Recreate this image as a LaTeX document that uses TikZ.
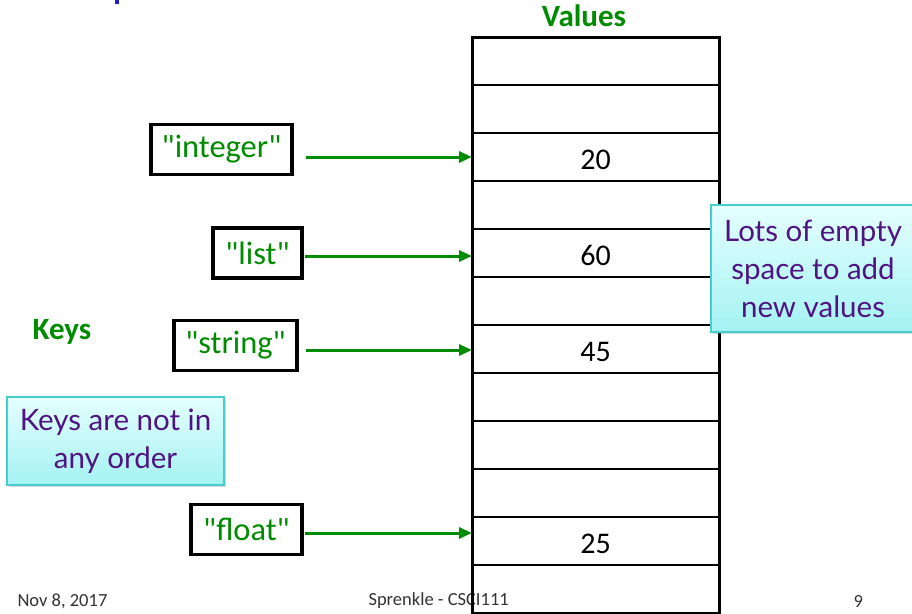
\documentclass[tikz,border=0pt]{standalone}
\usepackage{fontspec}
\setmainfont{Carlito}
\newfontfamily\keyfont{Carlito}[Ligatures=TeXOff]
\newfontfamily\gillfont{Lato}
\usetikzlibrary{arrows.meta,positioning,shadows}
\definecolor{keygreen}{RGB}{0,140,0}
\definecolor{notepurple}{RGB}{80,20,130}
\definecolor{noteedge}{RGB}{70,205,205}
\definecolor{notetop}{RGB}{228,255,255}
\definecolor{notebot}{RGB}{165,242,242}
\definecolor{titleblue}{RGB}{40,30,200}
\definecolor{footgray}{RGB}{50,50,50}

\begin{document}
\begin{tikzpicture}[x=1pt,y=-1pt,
  cell/.style={draw,line width=1.2pt,minimum width=247pt,minimum height=48pt,inner sep=0pt,outer sep=0pt,
    text height=25pt,text depth=0pt,font=\fontsize{30}{34}\selectfont},
  keybox/.style={draw,line width=3.5pt,fill=white,text=keygreen,minimum height=50pt,inner xsep=6pt,font=\keyfont\fontsize{32.5}{36}\selectfont},
  note/.style={draw=noteedge,line width=1.5pt,top color=notetop,bottom color=notebot,text=notepurple,align=center,
    font=\gillfont\fontsize{29.5}{38}\selectfont,drop shadow={shadow xshift=2pt,shadow yshift=-2pt,opacity=.3}},
  heading/.style={text=keygreen,font=\bfseries\fontsize{31}{36}\selectfont},
  foot/.style={text=footgray,anchor=west,font=\fontsize{18.5}{22}\selectfont},
  arr/.style={-{Triangle[length=13pt,width=11pt]},line width=3pt,keygreen}
]
\clip (0,0) rectangle (912,613);

% cut-off title
\fill[titleblue] (114.7,0) rectangle (119,4);

% footer
\node[foot] (date) at (14,601) {Nov 8, 2017};
\node[foot] (author) at (365,601) {Sprenkle - CSCI111};
\node[foot] (page) at (850,601) {9};

% table of values
\foreach \v [count=\i from 0] in {{},{},20,{},60,{},45,{},{},{},25,{},{},{}}
  \node[cell] (cell\i) at (595.5,61+48*\i) {\v};
\draw[line width=3pt] (cell0.north west) rectangle (cell13.south east);
\node[heading] (values) at (584,16) {Values};

% keys
\node[heading] (keys) at (62,332) {Keys};
\node[keybox,minimum width=141pt] (keyint) at (221.5,149.5) {"integer"};
\node[keybox,minimum width=89pt] (keylist) at (257.5,253) {"list"};
\node[keybox,minimum width=123pt] (keystr) at (235.5,345.5) {"string"};
\node[keybox,minimum width=111pt] (keyfloat) at (246.5,529.5) {"float"};

\foreach \k/\c/\dy/\gap in {keyint/2/0/12,keylist/4/-3/1,keystr/6/-1/7,keyfloat/10/8/1}{
  \coordinate (tip\k) at ([yshift=\dy pt]cell\c.west);
  \draw[arr,shorten <=\gap pt] (\k.east |- tip\k) -- (tip\k);
}

% callouts
\node[note,minimum width=217pt,minimum height=88pt] (noteorder) at (115.5,441) {Keys are not in\\any order};
\node[note,minimum width=204pt,minimum height=127pt] (notespace) at (813,268.5) {Lots of empty\\space to add\\new values};
\end{tikzpicture}
\end{document}
